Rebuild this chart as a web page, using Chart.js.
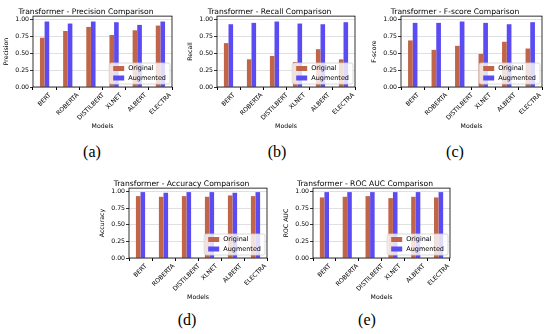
<!DOCTYPE html>
<html lang="en">
<head>
<meta charset="UTF-8">
<title>Transformer metric comparison</title>
<script src="https://cdn.jsdelivr.net/npm/chart.js"></script>
<style>
    html, body { margin: 0; padding: 0; background: #fff; }
    #fig { position: relative; width: 550px; height: 334px; overflow: hidden; }
    #fig canvas { position: absolute; }
    .tag {
        position: absolute;
        font-family: "Liberation Serif", "DejaVu Serif", serif;
        font-size: 16px;
        transform: translate(-50%, -50%);
        color: #000;
    }
</style>
</head>
<body>
<div id="fig">
    <div class="tag" style="left:92px; top:152px;">(a)</div>
    <div class="tag" style="left:277px; top:152px;">(b)</div>
    <div class="tag" style="left:455px; top:152px;">(c)</div>
    <div class="tag" style="left:187px; top:320px;">(d)</div>
    <div class="tag" style="left:367px; top:320px;">(e)</div>
</div>

<script>
// データ
const models = ['BERT', 'ROBERTA', 'DISTILBERT', 'XLNET', 'ALBERT', 'ELECTRA'];
const seriesNames = ['Original', 'Augmented'];
const yTicks = [0, 0.25, 0.5, 0.75, 1.0];

const precisionOrig = [0.73, 0.83, 0.89, 0.77, 0.84, 0.91];
const precisionAug  = [0.97, 0.94, 0.97, 0.96, 0.92, 0.97];
const recallOrig    = [0.65, 0.41, 0.46, 0.37, 0.56, 0.41];
const recallAug     = [0.93, 0.95, 0.97, 0.94, 0.93, 0.96];
const fscoreOrig    = [0.69, 0.55, 0.61, 0.49, 0.67, 0.57];
const fscoreAug     = [0.95, 0.95, 0.97, 0.95, 0.93, 0.96];
const accuracyOrig  = [0.93, 0.92, 0.93, 0.92, 0.94, 0.93];
const accuracyAug   = [0.99, 0.98, 0.99, 0.99, 0.98, 0.99];
const rocOrig       = [0.91, 0.92, 0.93, 0.90, 0.92, 0.91];
const rocAug        = [0.99, 0.99, 0.99, 0.99, 0.99, 0.99];

const colOrig = '#c0644a';
const colAug = '#5a4cf2';
const FONT = '"DejaVu Sans", sans-serif';

// 枠線
const framePlugin = {
    id: 'frame',
    afterDraw(chart) {
        const { ctx, chartArea: a } = chart;
        ctx.save();
        ctx.strokeStyle = '#000';
        ctx.lineWidth = 0.8;
        ctx.strokeRect(a.left, a.top, a.right - a.left, a.bottom - a.top);
        ctx.restore();
    }
};

// 45度回転のx軸ラベル（中央揃え）
const xLabelPlugin = {
    id: 'xlabels',
    afterDraw(chart) {
        const { ctx, chartArea: a } = chart;
        const xs = chart.scales.x;
        const size = 6.2;
        ctx.save();
        ctx.font = size + 'px ' + FONT;
        ctx.fillStyle = '#000';
        ctx.textAlign = 'center';
        ctx.textBaseline = 'middle';
        models.forEach((m, i) => {
            const x = xs.getPixelForTick(i);
            const w = ctx.measureText(m).width;
            const box = (w + size) * Math.SQRT1_2;
            ctx.save();
            ctx.translate(x, a.bottom + 5 + box / 2);
            ctx.rotate(-Math.PI / 4);
            ctx.fillText(m, 0, 0);
            ctx.restore();
        });
        ctx.restore();
    }
};

// 凡例（右下）
const legendPlugin = {
    id: 'innerLegend',
    afterDraw(chart) {
        const { ctx, chartArea: a } = chart;
        ctx.save();
        ctx.font = '6.5px ' + FONT;
        const tw = Math.max(...seriesNames.map(s => ctx.measureText(s).width));
        const bw = 4 + 11 + 4 + tw + 4;
        const bh = 21;
        const bx = a.right - 2 - bw;
        const by = a.bottom - 3 - bh;
        ctx.fillStyle = 'rgba(255,255,255,0.8)';
        ctx.strokeStyle = '#d0d0d0';
        ctx.lineWidth = 0.8;
        ctx.beginPath();
        ctx.roundRect(bx, by, bw, bh, 2);
        ctx.fill();
        ctx.stroke();
        ctx.textBaseline = 'middle';
        [colOrig, colAug].forEach((c, j) => {
            const y = by + 5.5 + j * 9.5;
            ctx.fillStyle = c;
            ctx.fillRect(bx + 4, y - 2.5, 11, 5);
            ctx.fillStyle = '#000';
            ctx.fillText(seriesNames[j], bx + 19, y);
        });
        ctx.restore();
    }
};

function makePanel(plot, title, yLabel, orig, aug) {
    const left = plot.l - 33, top = plot.t - 16;
    const width = plot.r - left + 3, height = plot.b - top + 47;
    const canvas = document.createElement('canvas');
    canvas.width = width;
    canvas.height = height;
    canvas.style.left = left + 'px';
    canvas.style.top = top + 'px';
    canvas.style.width = width + 'px';
    canvas.style.height = height + 'px';
    document.getElementById('fig').appendChild(canvas);

    return new Chart(canvas.getContext('2d'), {
        type: 'bar',
        data: {
            labels: models,
            datasets: [
                { label: seriesNames[0], data: orig, backgroundColor: colOrig },
                { label: seriesNames[1], data: aug, backgroundColor: colAug }
            ]
        },
        options: {
            responsive: false,
            animation: false,
            devicePixelRatio: 1,
            layout: { padding: { right: 3, left: 0, top: 0, bottom: 0 } },
            datasets: { bar: { categoryPercentage: 0.4, barPercentage: 1.0 } },
            plugins: {
                legend: { display: false },
                tooltip: { enabled: false },
                title: {
                    display: true,
                    text: title,
                    color: '#000',
                    font: { family: FONT, size: 7.6, weight: 'normal' },
                    padding: { top: 7, bottom: 0 }
                }
            },
            scales: {
                x: {
                    offset: true,
                    ticks: { display: false },
                    grid: { drawOnChartArea: false, drawTicks: true, tickLength: 3, tickColor: '#000' },
                    border: { display: false },
                    title: { display: true, text: 'Models', color: '#000', font: { family: FONT, size: 6.2 }, padding: 4 },
                    afterFit(s) { s.height = 47; }
                },
                y: {
                    min: 0,
                    max: 1.05,
                    afterBuildTicks(s) { s.ticks = yTicks.map(v => ({ value: v })); },
                    ticks: {
                        color: '#000',
                        padding: 1,
                        font: { family: FONT, size: 6.2 },
                        callback: v => Number(v).toFixed(2)
                    },
                    grid: {
                        color: 'rgba(150,150,150,0.6)',
                        lineWidth: 0.5,
                        borderDash: [2, 2],
                        tickColor: '#000',
                        tickLength: 3,
                        tickBorderDash: [],
                        tickWidth: 0.8
                    },
                    border: { display: false },
                    title: { display: true, text: yLabel, color: '#000', font: { family: FONT, size: 6.2 }, padding: { top: 3, bottom: 1 } },
                    afterFit(s) { s.width = 33; }
                }
            }
        },
        plugins: [framePlugin, xLabelPlugin, legendPlugin]
    });
}

makePanel({ l: 33,  r: 172, t: 16,  b: 87 },  'Transformer - Precision Comparison', 'Precision', precisionOrig, precisionAug);
makePanel({ l: 217, r: 355, t: 16,  b: 87 },  'Transformer - Recall Comparison',    'Recall',    recallOrig,    recallAug);
makePanel({ l: 401, r: 542, t: 16,  b: 87 },  'Transformer - F-score Comparison',   'F-score',   fscoreOrig,    fscoreAug);
makePanel({ l: 129, r: 267, t: 188, b: 258 }, 'Transformer - Accuracy Comparison',  'Accuracy',  accuracyOrig,  accuracyAug);
makePanel({ l: 313, r: 450, t: 188, b: 258 }, 'Transformer - ROC AUC Comparison',   'ROC AUC',   rocOrig,       rocAug);
</script>
</body>
</html>
